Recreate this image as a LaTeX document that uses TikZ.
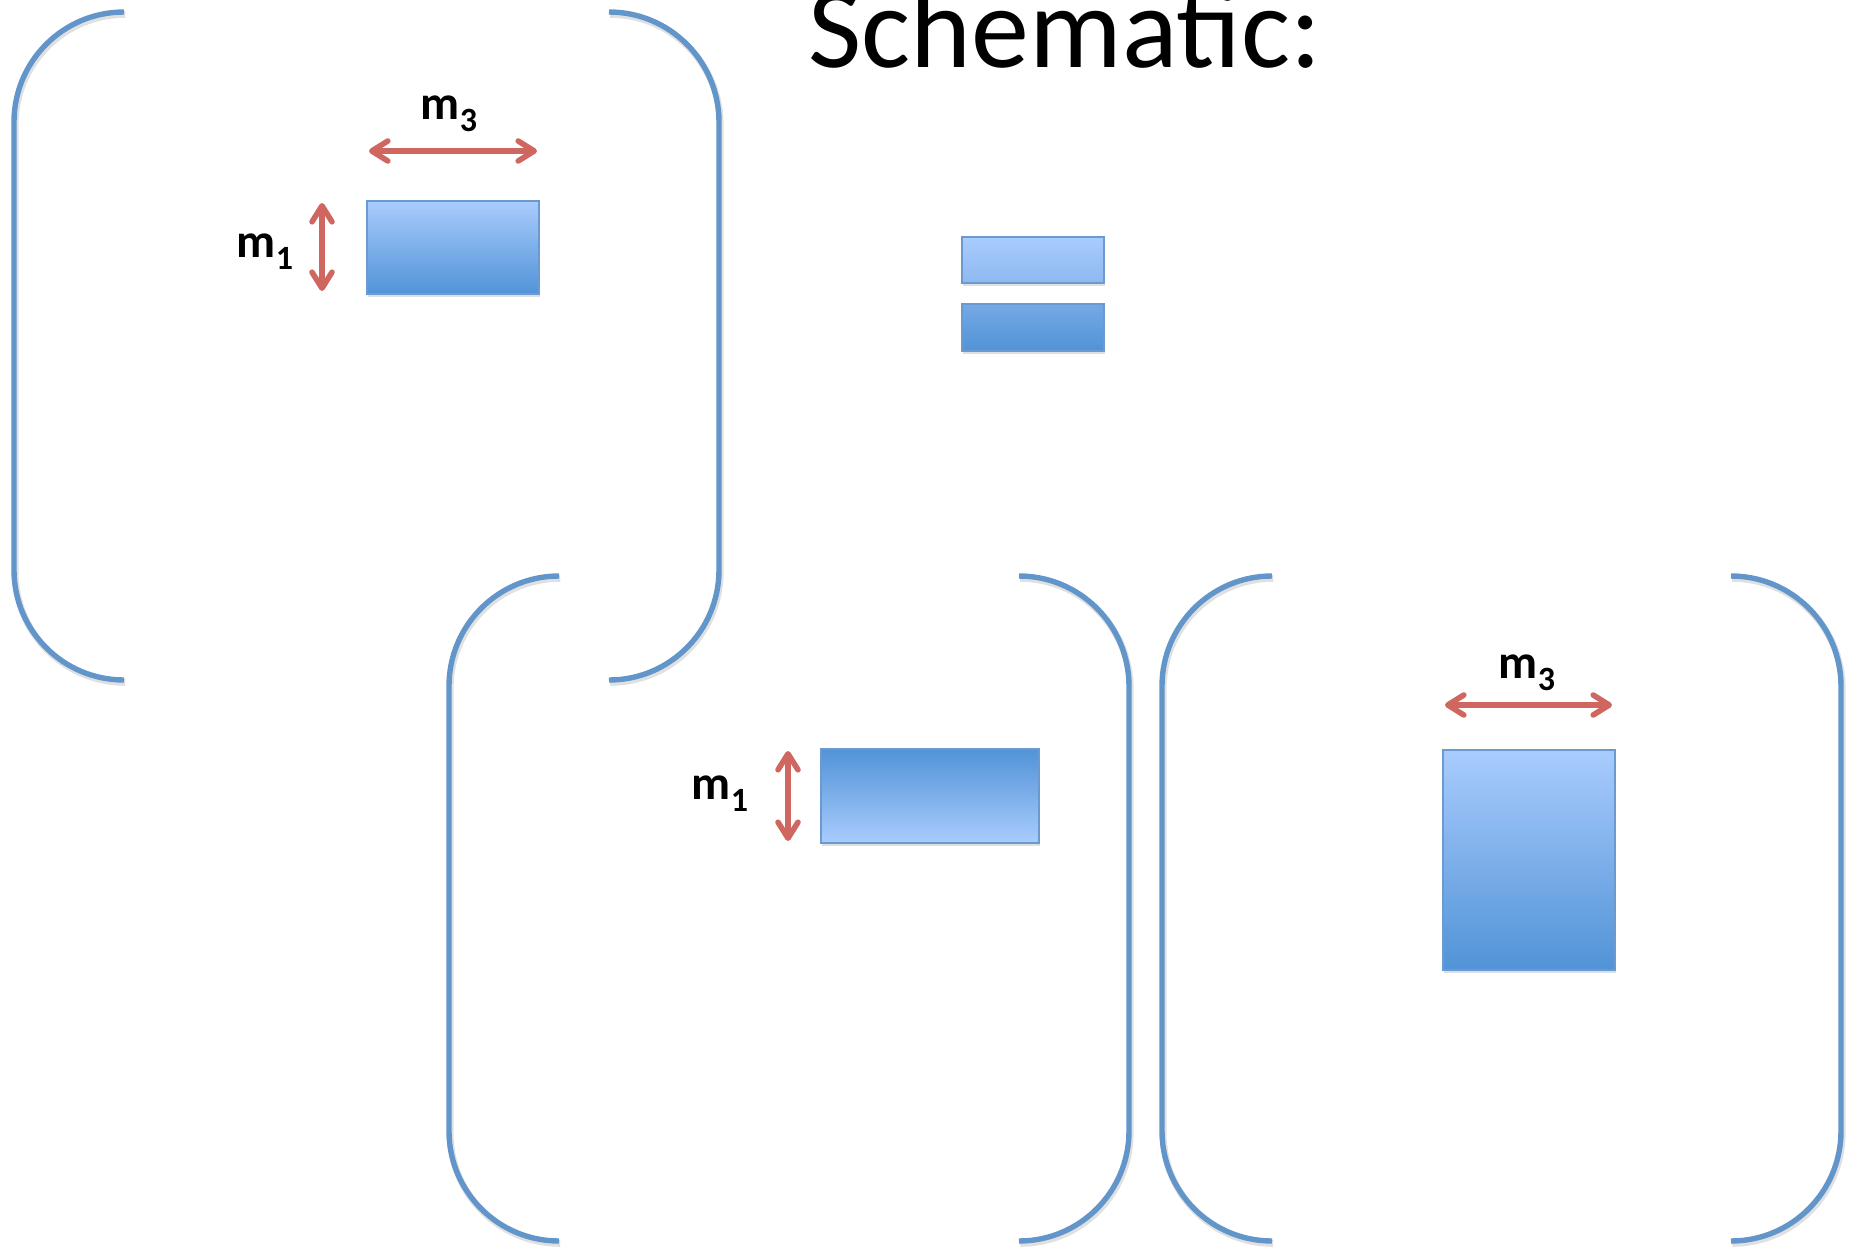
\documentclass[tikz,border=0pt]{standalone}
\usepackage{fontspec}
\setmainfont{Carlito}
\usetikzlibrary{arrows.meta,shadows}
\definecolor{brk}{HTML}{6296CB}
\definecolor{blktop}{HTML}{A9CCFD}
\definecolor{blkmid1}{HTML}{8DB9F0}
\definecolor{blkmid2}{HTML}{74A9E6}
\definecolor{blkbot}{HTML}{5193D7}
\definecolor{blkedge}{HTML}{6A9AD0}
\definecolor{arr}{HTML}{CF6760}
\newcommand\mlab[2]{\textbf{#1\raisebox{-6pt}{\fontsize{17}{17}\selectfont #2}}}
\tikzset{
  bracket/.style={draw=brk, line width=2.7pt, rounded corners=55pt},
  brshadow/.style={draw=black, opacity=0.12, line width=3.4pt, rounded corners=55pt, xshift=0.6pt, yshift=-1.2pt},
  blk/.style={draw=blkedge, line width=0.8pt, inner sep=0pt,
    drop shadow={shadow xshift=0.6pt, shadow yshift=-1.6pt, opacity=0.25}},
  dimarrow/.style={draw=arr, line width=2.8pt,
    {Straight Barb[length=8pt,width=10pt,round]}-{Straight Barb[length=8pt,width=10pt,round]}},
  dimlab/.style={anchor=base, inner sep=0pt, font=\fontsize{24}{24}\selectfont}
}
\newcommand\bracketpair[4]{% x-left x-right y-top y-bottom (pixels)
  \draw[brshadow] (#1+110,#3) -- (#1,#3) -- (#1,#4) -- (#1+110,#4);
  \draw[brshadow] (#2-110,#3) -- (#2,#3) -- (#2,#4) -- (#2-110,#4);
  \draw[bracket] (#1+110,#3) -- (#1,#3) -- (#1,#4) -- (#1+110,#4);
  \draw[bracket] (#2-110,#3) -- (#2,#3) -- (#2,#4) -- (#2-110,#4);
}
\begin{document}
\begin{tikzpicture}[x=0.5pt,y=-0.5pt]
\useasboundingbox (0,0) rectangle (1854,1248);
% title
\node[anchor=base west, inner sep=0pt, font=\fontsize{58}{58}\selectfont] (title) at (808,67) {Schematic:};
% brackets
\bracketpair{14}{719}{12}{680}
\bracketpair{449}{1129}{576}{1241}
\bracketpair{1162}{1841}{576}{1241}
% blocks
\node[blk, minimum width=86pt, minimum height=46.5pt, top color=blktop, bottom color=blkbot] (A) at (453,247.5) {};
\node[blk, minimum width=109pt, minimum height=47pt, top color=blkbot, bottom color=blktop] (B) at (930,796) {};
\node[blk, minimum width=86pt, minimum height=110pt, top color=blktop, bottom color=blkbot] (C) at (1529,860) {};
\node[blk, minimum width=71pt, minimum height=23pt, top color=blktop, bottom color=blkmid1] (E1) at (1033,260) {};
\node[blk, minimum width=71pt, minimum height=23.5pt, top color=blkmid2, bottom color=blkbot] (E2) at (1033,327.5) {};
% dimension arrows
\coordinate (a3l) at (369,151); \coordinate (a3r) at (537,151);
\coordinate (a1t) at (322,203); \coordinate (a1b) at (322,291);
\coordinate (b1t) at (788,751); \coordinate (b1b) at (788,841);
\coordinate (c3l) at (1445,705); \coordinate (c3r) at (1612,705);
\draw[dimarrow] (a3l) -- (a3r);
\draw[dimarrow] (a1t) -- (a1b);
\draw[dimarrow] (b1t) -- (b1b);
\draw[dimarrow] (c3l) -- (c3r);
% labels
\node[dimlab] (La3) at (449,119) {\mlab{m}{3}};
\node[dimlab] (La1) at (265,257) {\mlab{m}{1}};
\node[dimlab] (Lb1) at (720,799) {\mlab{m}{1}};
\node[dimlab] (Lc3) at (1527,678) {\mlab{m}{3}};
\end{tikzpicture}
\end{document}
